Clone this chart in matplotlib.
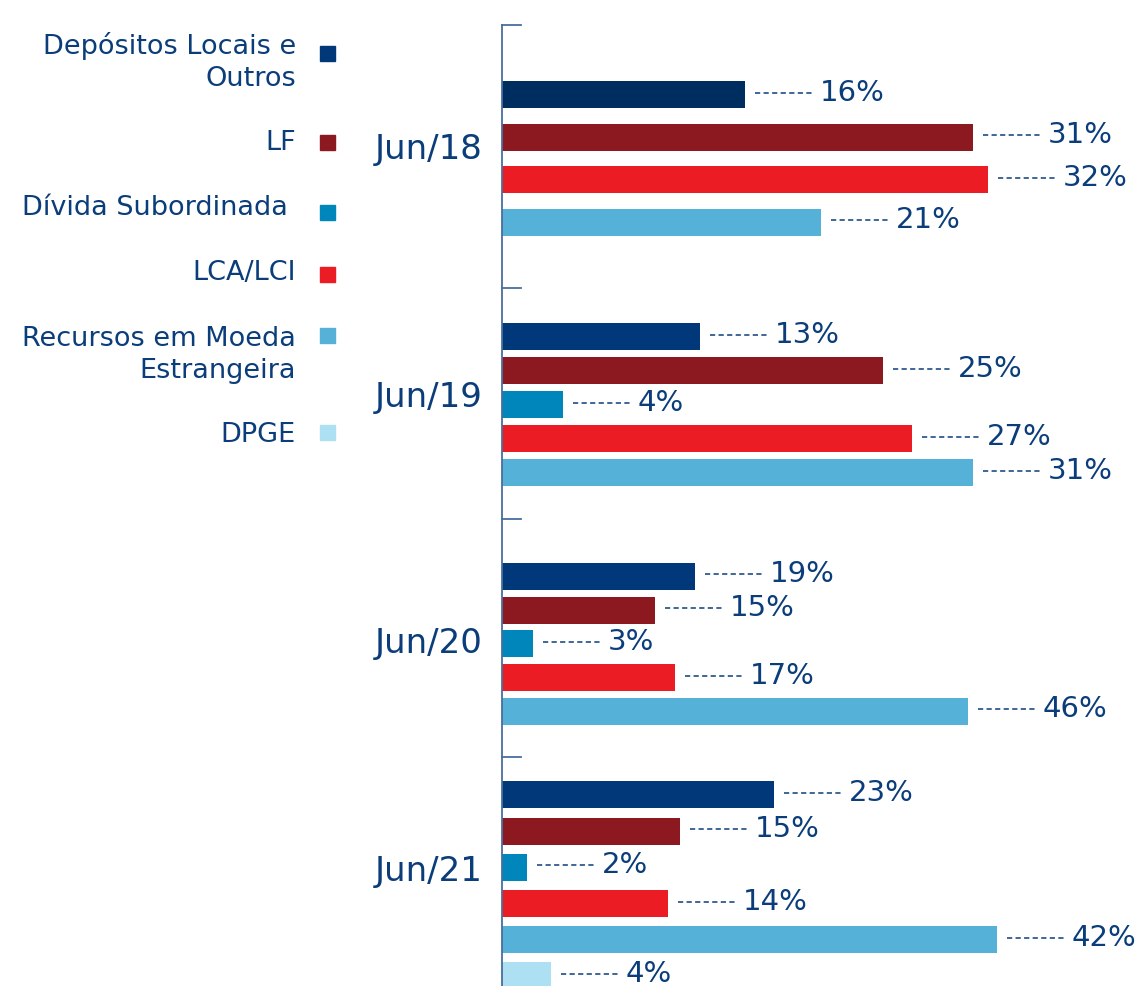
import numpy as np
import matplotlib
matplotlib.use("Agg")
import matplotlib.pyplot as plt
from matplotlib.patches import Rectangle

# Data
periods = ["Jun/18", "Jun/19", "Jun/20", "Jun/21"]
series = ["Depósitos Locais e\nOutros", "LF", "Dívida Subordinada ", "LCA/LCI",
          "Recursos em Moeda\nEstrangeira", "DPGE"]
colors = ["#00387A", "#8C1820", "#0086BA", "#EC1C24", "#56B1D9", "#AEE0F3"]

# bar sizes (as drawn) and the share labels, per period; None = no bar
deposits = [24.3, 19.8, 19.3, 27.2]
lf = [47.1, 38.1, 15.3, 17.8]
subordinated = [None, 6.1, 3.1, 2.5]
lca_lci = [48.6, 41.0, 17.3, 16.6]
foreign = [31.9, 47.1, 46.6, 49.5]
dpge = [None, None, None, 4.9]

deposits_pct = ["16%", "13%", "19%", "23%"]
lf_pct = ["31%", "25%", "15%", "15%"]
subordinated_pct = [None, "4%", "3%", "2%"]
lca_lci_pct = ["32%", "27%", "17%", "14%"]
foreign_pct = ["21%", "31%", "46%", "42%"]
dpge_pct = [None, None, None, "4%"]

values = [deposits, lf, subordinated, lca_lci, foreign, dpge]
labels = [deposits_pct, lf_pct, subordinated_pct, lca_lci_pct, foreign_pct, dpge_pct]

text_color = "#0A3D79"
axis_color = "#4A6E9C"

W, H = 1146, 986
fig = plt.figure(figsize=(W / 100, H / 100), dpi=100)
ax = fig.add_axes([502 / W, 0, (W - 502) / W, (H - 25) / H])
ax.set_xlim(0, (W - 502) / 10)
ax.set_ylim(H, 25)

# group layout (pixel-like units on y)
group_center = [158.75, 405, 644, 885.5]
group_step = [42.5, 34, 33.75, 36.2]
group_edges = [25, 288, 519, 757]
label_y = [150, 398, 643, 872]
bar_h = 27

for g, period in enumerate(periods):
    present = [s for s in range(len(series)) if values[s][g] is not None]
    n = len(present)
    for k, s in enumerate(present):
        y = group_center[g] + (k - (n - 1) / 2) * group_step[g]
        v = values[s][g]
        c = "#002D5F" if (s == 0 and g == 0) else colors[s]
        ax.barh(y, v, height=bar_h, color=c, left=0)
        ax.plot([v + 1.0, v + 6.8], [y - 2, y - 2], color=text_color, lw=1.1,
                linestyle=(0, (3.4, 2.2)))
        ax.text(v + 7.5, y - 2, labels[s][g], fontsize=21, color=text_color,
                va="center", ha="left")
    fig.text(483 / W, 1 - label_y[g] / H, period, fontsize=24.5, color=text_color,
             ha="right", va="center")

# group separators as short ticks on the axis
for e in group_edges:
    ax.plot([0, 1.9], [e, e], color=axis_color, lw=1.3, clip_on=False)

for sp in ["top", "right", "bottom"]:
    ax.spines[sp].set_visible(False)
ax.spines["left"].set_color(axis_color)
ax.spines["left"].set_linewidth(1.3)
ax.set_xticks([])
ax.set_yticks([])
ax.patch.set_alpha(0)

# legend on the left
legend_text_y = [62, 143, 208, 273, 355, 435]
legend_box_y = [53, 142, 212, 274, 335, 432]
for s, name in enumerate(series):
    fig.text(296 / W, 1 - legend_text_y[s] / H, name, fontsize=19.5, color=text_color,
             ha="right", va="center", multialignment="right", linespacing=1.3)
    fig.patches.append(Rectangle(((327 - 7.5) / W, 1 - (legend_box_y[s] + 7.5) / H),
                                 15 / W, 15 / H, transform=fig.transFigure,
                                 color=colors[s]))

fig.savefig("out.png", dpi=100)
